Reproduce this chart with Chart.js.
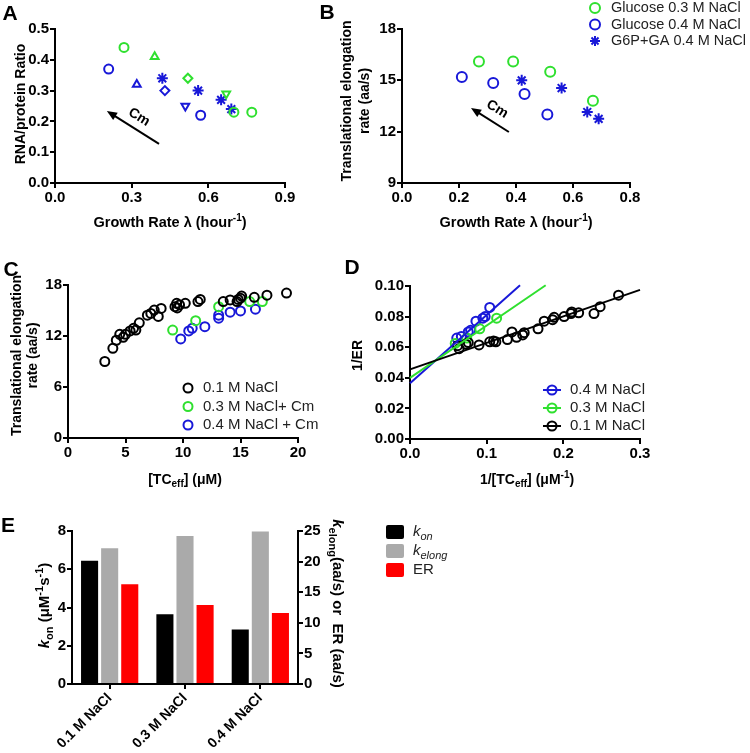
<!DOCTYPE html>
<html>
<head>
<meta charset="utf-8">
<script src="https://cdn.jsdelivr.net/npm/chart.js@4.4.0/dist/chart.umd.min.js"></script>
<style>
  body { margin: 0; background: #fff; }
  #wrap { position: relative; width: 750px; height: 753px; overflow: hidden; }
  canvas { position: absolute; }
</style>
</head>
<body>
<div id="wrap">
  <canvas id="cA" width="300" height="240" style="left:0;top:0"></canvas>
  <canvas id="cB" width="500" height="240" style="left:250px;top:0"></canvas>
  <canvas id="cC" width="370" height="260" style="left:0;top:240px"></canvas>
  <canvas id="cD" width="410" height="260" style="left:340px;top:240px"></canvas>
  <canvas id="cE" width="520" height="263" style="left:0;top:490px"></canvas>
</div>
<script>
var green = "#2fe02f", blue = "#1818d8";

// A: RNA/protein ratio vs growth rate
var aGreenX = [0.27, 0.39, 0.52, 0.67, 0.70, 0.77];
var aGreenY = [0.44, 0.41, 0.34, 0.29, 0.23, 0.23];
var aBlueX = [0.21, 0.32, 0.43, 0.51, 0.57];
var aBlueY = [0.37, 0.32, 0.30, 0.25, 0.22];
var aStarX = [0.42, 0.56, 0.65, 0.69];
var aStarY = [0.34, 0.30, 0.27, 0.24];
var aTicksX = [0, 0.3, 0.6, 0.9];
var aTicksY = [0, 0.1, 0.2, 0.3, 0.4, 0.5];
var aArrow = [0.407, 0.127, 0.203, 0.234]; // from x,y -> to x,y (data units)
var aCm = [0.329, 0.214];

// B: elongation rate vs growth rate
var bGreenX = [0.27, 0.39, 0.52, 0.67];
var bGreenY = [16.1, 16.1, 15.5, 13.8];
var bBlueX = [0.21, 0.32, 0.43, 0.51];
var bBlueY = [15.2, 14.85, 14.2, 13.0];
var bStarX = [0.42, 0.56, 0.65, 0.69];
var bStarY = [15.0, 14.55, 13.15, 12.75];
var bTicksX = [0, 0.2, 0.4, 0.6, 0.8];
var bTicksY = [9, 12, 15, 18];
var bArrow = [0.375, 11.98, 0.242, 13.38];
var bCm = [0.334, 13.32];

// C: elongation rate vs [TCeff]
var cBlackX = [3.2, 3.9, 4.2, 4.5, 4.8, 5.0, 5.4, 5.7, 5.9, 6.2, 6.9, 7.2, 7.5, 7.85, 8.1, 9.3, 9.45, 9.5, 9.7, 10.2, 11.3, 11.5, 13.5, 14.1, 14.7, 14.8, 15.0, 15.1, 16.2, 17.3, 19.0];
var cBlackY = [9.0, 10.55, 11.5, 12.2, 11.85, 12.2, 12.6, 12.9, 12.7, 13.55, 14.45, 14.65, 15.05, 14.3, 15.25, 15.45, 15.85, 15.3, 15.65, 15.85, 16.05, 16.3, 16.05, 16.25, 16.05, 16.3, 16.45, 16.7, 16.55, 16.8, 17.05];
var cGreenX = [9.1, 11.1, 13.1, 15.8, 16.9];
var cGreenY = [12.7, 13.8, 15.45, 16.05, 16.05];
var cBlueX = [9.8, 10.5, 10.8, 11.9, 13.1, 13.1, 14.1, 15.0, 16.3];
var cBlueY = [11.65, 12.6, 12.9, 13.1, 14.1, 14.45, 14.8, 14.95, 15.15];
var cTicksX = [0, 5, 10, 15, 20];
var cTicksY = [0, 6, 12, 18];

// D: 1/ER vs 1/[TCeff]
var dBlackX = [0.062, 0.064, 0.073, 0.076, 0.090, 0.104, 0.109, 0.112, 0.127, 0.133, 0.139, 0.147, 0.149, 0.167, 0.175, 0.186, 0.188, 0.201, 0.210, 0.211, 0.220, 0.240, 0.248, 0.272];
var dBlackY = [0.061, 0.059, 0.062, 0.063, 0.0615, 0.0635, 0.064, 0.0635, 0.065, 0.070, 0.0665, 0.068, 0.0695, 0.072, 0.077, 0.078, 0.0795, 0.080, 0.082, 0.083, 0.0825, 0.082, 0.0865, 0.094];
var dGreenX = [0.059, 0.074, 0.091, 0.113];
var dGreenY = [0.0625, 0.066, 0.072, 0.079];
var dBlueX = [0.061, 0.067, 0.076, 0.079, 0.086, 0.095, 0.098, 0.104];
var dBlueY = [0.066, 0.067, 0.070, 0.071, 0.077, 0.079, 0.080, 0.086];
var dFitBlackX = [0, 0.30], dFitBlackY = [0.0455, 0.0975];
var dFitGreenX = [0, 0.177], dFitGreenY = [0.040, 0.1005];
var dFitBlueX = [0, 0.1435], dFitBlueY = [0.0365, 0.1005];
var dTicksX = [0, 0.1, 0.2, 0.3];
var dTicksY = [0, 0.02, 0.04, 0.06, 0.08, 0.10];

// E: kon, kelong and ER per NaCl
var eCats = ["0.1 M NaCl", "0.3 M NaCl", "0.4 M NaCl"];
var eKon = [6.45, 3.65, 2.85];
var eKelong = [22.2, 24.2, 24.9];
var eER = [16.3, 12.9, 11.6];
var eTicksL = [0, 2, 4, 6, 8];
var eTicksR = [0, 5, 10, 15, 20, 25];

var FONT = '"Liberation Sans", Arial, sans-serif';
Chart.defaults.font.family = FONT;
Chart.defaults.color = "#000";
Chart.defaults.animation = false;

function pts(xs, ys) {
  return xs.map(function (x, i) { return { x: x, y: ys[i] }; });
}

function linAxis(pos, min, max, ticks, digits, size) {
  return {
    type: "linear", position: pos, min: min, max: max,
    border: { display: true, color: "#000", width: 2 },
    grid: { drawOnChartArea: false, color: "#000", lineWidth: 2, tickLength: 5 },
    ticks: {
      color: "#000", padding: 1, font: { size: 15, weight: "bold" },
      callback: function (v) { return Number(v).toFixed(digits); }
    },
    afterBuildTicks: function (s) { s.ticks = ticks.map(function (v) { return { value: v }; }); },
    afterFit: function (s) { if (s.isHorizontal()) s.height = size; else s.width = size; }
  };
}

// texte avec exposant / indice, dessine sur le canvas
function drawRich(ctx, x, y, parts, o) {
  o = o || {};
  var size = o.size || 14, weight = o.weight || "bold";
  parts = parts.map(function (p) { return typeof p === "string" ? { t: p } : p; });
  function font(p) {
    var s = (p.sup || p.sub) ? Math.round(size * 0.7) : size;
    return (p.it ? "italic " : "") + weight + " " + s + "px " + FONT;
  }
  var w = 0;
  parts.forEach(function (p) { ctx.font = font(p); w += ctx.measureText(p.t).width; });
  ctx.save();
  ctx.translate(x, y);
  ctx.rotate((o.rot || 0) * Math.PI / 180);
  ctx.fillStyle = o.color || "#000";
  ctx.textBaseline = "middle";
  var cx = o.align === "left" ? 0 : -w / 2;
  parts.forEach(function (p) {
    ctx.font = font(p);
    var dy = p.sup ? -size * 0.33 : (p.sub ? size * 0.3 : 0);
    ctx.fillText(p.t, cx, dy);
    cx += ctx.measureText(p.t).width;
  });
  ctx.restore();
}

function arrow(ctx, x1, y1, x2, y2) {
  var a = Math.atan2(y2 - y1, x2 - x1), h = 11;
  ctx.save();
  ctx.strokeStyle = "#000"; ctx.fillStyle = "#000"; ctx.lineWidth = 2;
  ctx.beginPath();
  ctx.moveTo(x1, y1);
  ctx.lineTo(x2 - h * 0.7 * Math.cos(a), y2 - h * 0.7 * Math.sin(a));
  ctx.stroke();
  ctx.beginPath();
  ctx.moveTo(x2, y2);
  ctx.lineTo(x2 - h * Math.cos(a - 0.4), y2 - h * Math.sin(a - 0.4));
  ctx.lineTo(x2 - h * Math.cos(a + 0.4), y2 - h * Math.sin(a + 0.4));
  ctx.closePath();
  ctx.fill();
  ctx.restore();
}

function marker(ctx, style, x, y, r, color) {
  ctx.save();
  ctx.strokeStyle = color; ctx.lineWidth = 2;
  ctx.beginPath();
  if (style === "star") {
    for (var k = 0; k < 4; k++) {
      var an = k * Math.PI / 4;
      ctx.moveTo(x - r * Math.cos(an), y - r * Math.sin(an));
      ctx.lineTo(x + r * Math.cos(an), y + r * Math.sin(an));
    }
  } else {
    ctx.arc(x, y, r, 0, Math.PI * 2);
  }
  ctx.stroke();
  ctx.restore();
}

function deco(fn) {
  return { id: "deco", afterDraw: function (chart) { fn(chart, chart.ctx, chart.chartArea); } };
}

function px(c, v) { return [c.scales.x.getPixelForValue(v[0]), c.scales.y.getPixelForValue(v[1])]; }

function scatterSet(label, data, color, style, r, extra) {
  var d = {
    label: label, data: data, borderColor: color, backgroundColor: "rgba(0,0,0,0)",
    pointStyle: style, pointRadius: r, pointBorderWidth: 2, clip: false
  };
  for (var k in extra) d[k] = extra[k];
  return d;
}

var baseOpts = function (pad) {
  return {
    responsive: false, events: [],
    layout: { padding: pad },
    plugins: { legend: { display: false }, tooltip: { enabled: false } }
  };
};

// ---- A ----
var optA = baseOpts({ top: 29, right: 15, left: 0, bottom: 0 });
optA.scales = { x: linAxis("bottom", 0, 0.9, aTicksX, 1, 57), y: linAxis("left", 0, 0.5, aTicksY, 1, 55) };
new Chart(document.getElementById("cA"), {
  type: "scatter",
  data: {
    datasets: [
      scatterSet("Glucose 0.3 M NaCl", pts(aGreenX, aGreenY), green,
        ["circle", "triangle", "rectRot", "triangle", "circle", "circle"], 4.5,
        { pointRotation: [0, 0, 0, 180, 0, 0] }),
      scatterSet("Glucose 0.4 M NaCl", pts(aBlueX, aBlueY), blue,
        ["circle", "triangle", "rectRot", "triangle", "circle"], 4.5,
        { pointRotation: [0, 0, 0, 180, 0] }),
      scatterSet("G6P+GA 0.4 M NaCl", pts(aStarX, aStarY), blue, "star", 5.5)
    ]
  },
  options: optA,
  plugins: [deco(function (c, ctx, a) {
    drawRich(ctx, 10, 14, ["A"], { size: 21 });
    drawRich(ctx, a.left - 34, (a.top + a.bottom) / 2 - 2, ["RNA/protein Ratio"], { rot: -90 });
    drawRich(ctx, (a.left + a.right) / 2, a.bottom + 40, ["Growth Rate λ (hour", { t: "-1", sup: true }, ")"], { size: 14.5 });
    var p1 = px(c, [aArrow[0], aArrow[1]]), p2 = px(c, [aArrow[2], aArrow[3]]);
    arrow(ctx, p1[0], p1[1], p2[0], p2[1]);
    var t = px(c, aCm);
    drawRich(ctx, t[0], t[1], ["Cm"], { rot: 32 });
  })]
});

// ---- B ----
var optB = baseOpts({ top: 29, right: 120, left: 0, bottom: 0 });
optB.scales = { x: linAxis("bottom", 0, 0.8, bTicksX, 1, 57), y: linAxis("left", 9, 18, bTicksY, 0, 152) };
new Chart(document.getElementById("cB"), {
  type: "scatter",
  data: {
    datasets: [
      scatterSet("Glucose 0.3 M NaCl", pts(bGreenX, bGreenY), green, "circle", 5),
      scatterSet("Glucose 0.4 M NaCl", pts(bBlueX, bBlueY), blue, "circle", 5),
      scatterSet("G6P+GA 0.4 M NaCl", pts(bStarX, bStarY), blue, "star", 5.5)
    ]
  },
  options: optB,
  plugins: [deco(function (c, ctx, a) {
    drawRich(ctx, 77, 13, ["B"], { size: 21 });
    var cy = (a.top + a.bottom) / 2 - 5;
    drawRich(ctx, a.left - 55, cy, ["Translational elongation"], { rot: -90 });
    drawRich(ctx, a.left - 37, cy, ["rate (aa/s)"], { rot: -90 });
    drawRich(ctx, (a.left + a.right) / 2, a.bottom + 40, ["Growth Rate λ (hour", { t: "-1", sup: true }, ")"], { size: 14.5 });
    var p1 = px(c, [bArrow[0], bArrow[1]]), p2 = px(c, [bArrow[2], bArrow[3]]);
    arrow(ctx, p1[0], p1[1], p2[0], p2[1]);
    var t = px(c, bCm);
    drawRich(ctx, t[0], t[1], ["Cm"], { rot: 32 });
    var styles = ["circle", "circle", "star"];
    c.data.datasets.forEach(function (ds, i) {
      var y = 8 + i * 16.5;
      marker(ctx, styles[i], 345, y, 5, ds.borderColor);
      drawRich(ctx, 361, y, [ds.label], { weight: "normal", size: 14.5, align: "left", color: "#222" });
    });
  })]
});

// ---- C ----
var optC = baseOpts({ top: 45, right: 72, left: 0, bottom: 0 });
optC.scales = { x: linAxis("bottom", 0, 20, cTicksX, 0, 62), y: linAxis("left", 0, 18, cTicksY, 0, 68) };
new Chart(document.getElementById("cC"), {
  type: "scatter",
  data: {
    datasets: [
      scatterSet("0.1 M NaCl", pts(cBlackX, cBlackY), "#000", "circle", 4.5),
      scatterSet("0.3 M NaCl+ Cm", pts(cGreenX, cGreenY), green, "circle", 4.5),
      scatterSet("0.4 M NaCl + Cm", pts(cBlueX, cBlueY), blue, "circle", 4.5)
    ]
  },
  options: optC,
  plugins: [deco(function (c, ctx, a) {
    drawRich(ctx, 11, 30, ["C"], { size: 21 });
    var cy = (a.top + a.bottom) / 2 - 6;
    drawRich(ctx, a.left - 51, cy, ["Translational elongation"], { rot: -90 });
    drawRich(ctx, a.left - 35, cy, ["rate (aa/s)"], { rot: -90 });
    drawRich(ctx, (a.left + a.right) / 2 + 2, a.bottom + 42, ["[TC", { t: "eff", sub: true }, "] (μM)"]);
    c.data.datasets.forEach(function (ds, i) {
      var y = 148 + i * 18.5;
      marker(ctx, "circle", 188, y, 4.5, ds.borderColor);
      drawRich(ctx, 203, y, [ds.label], { weight: "normal", size: 15, align: "left", color: "#222" });
    });
  })]
});

// ---- D ----
function fitSet(xs, ys, color) {
  return { type: "line", data: pts(xs, ys), borderColor: color, borderWidth: 2, pointRadius: 0, showLine: true, fill: false, clip: false };
}
var optD = baseOpts({ top: 46, right: 110, left: 0, bottom: 0 });
optD.scales = { x: linAxis("bottom", 0, 0.3, dTicksX, 1, 61), y: linAxis("left", 0, 0.10, dTicksY, 2, 70) };
new Chart(document.getElementById("cD"), {
  type: "scatter",
  data: {
    datasets: [
      fitSet(dFitBlackX, dFitBlackY, "#000"),
      fitSet(dFitGreenX, dFitGreenY, green),
      fitSet(dFitBlueX, dFitBlueY, blue),
      scatterSet("0.1 M NaCl", pts(dBlackX, dBlackY), "#000", "circle", 4.5),
      scatterSet("0.3 M NaCl", pts(dGreenX, dGreenY), green, "circle", 4.5),
      scatterSet("0.4 M NaCl", pts(dBlueX, dBlueY), blue, "circle", 4.5)
    ]
  },
  options: optD,
  plugins: [deco(function (c, ctx, a) {
    drawRich(ctx, 12, 28, ["D"], { size: 21 });
    drawRich(ctx, a.left - 52, (a.top + a.bottom) / 2 - 7, ["1/ER"], { rot: -90 });
    drawRich(ctx, (a.left + a.right) / 2 + 2, a.bottom + 41, ["1/[TC", { t: "eff", sub: true }, "] (μM", { t: "-1", sup: true }, ")"]);
    [5, 4, 3].forEach(function (di, i) {
      var ds = c.data.datasets[di], y = 150 + i * 18;
      ctx.save();
      ctx.strokeStyle = ds.borderColor; ctx.lineWidth = 2;
      ctx.beginPath(); ctx.moveTo(203, y); ctx.lineTo(221, y); ctx.stroke();
      ctx.restore();
      marker(ctx, "circle", 212, y, 4.5, ds.borderColor);
      drawRich(ctx, 230, y, [ds.label], { weight: "normal", size: 15, align: "left", color: "#222" });
    });
  })]
});

// ---- E ----
var optE = baseOpts({ top: 41, right: 140, left: 0, bottom: 0 });
optE.scales = {
  x: {
    type: "category", offset: true,
    border: { display: true, color: "#000", width: 2 },
    grid: { drawOnChartArea: false, offset: false, color: "#000", lineWidth: 2, tickLength: 5 },
    ticks: { color: "#000", autoSkip: false, minRotation: 45, maxRotation: 45, padding: 1, font: { size: 14, weight: "bold" } },
    afterFit: function (s) { s.height = 69; }
  },
  y: linAxis("left", 0, 8, eTicksL, 0, 72),
  y2: linAxis("right", 0, 25, eTicksR, 0, 82)
};
new Chart(document.getElementById("cE"), {
  type: "bar",
  data: {
    labels: eCats,
    datasets: [
      { label: "kon", data: eKon, backgroundColor: "#000", yAxisID: "y", categoryPercentage: 0.8, barPercentage: 0.85 },
      { label: "kelong", data: eKelong, backgroundColor: "#aaaaaa", yAxisID: "y2", categoryPercentage: 0.8, barPercentage: 0.85 },
      { label: "ER", data: eER, backgroundColor: "#ff0000", yAxisID: "y2", categoryPercentage: 0.8, barPercentage: 0.85 }
    ]
  },
  options: optE,
  plugins: [deco(function (c, ctx, a) {
    drawRich(ctx, 8, 36, ["E"], { size: 21 });
    var cy = (a.top + a.bottom) / 2;
    drawRich(ctx, a.left - 27, cy - 2, [{ t: "k", it: true }, { t: "on", sub: true }, " (μM", { t: "-1", sup: true }, "s", { t: "-1", sup: true }, ")"], { rot: -90, size: 15 });
    drawRich(ctx, a.right + 39, cy - 4, [{ t: "k", it: true }, { t: "elong", sub: true }, "(aa/s) or  ER (aa/s)"], { rot: 90, size: 15 });
    var legendTxt = [
      [{ t: "k", it: true }, { t: "on", sub: true, it: true }],
      [{ t: "k", it: true }, { t: "elong", sub: true, it: true }],
      ["ER"]
    ];
    c.data.datasets.forEach(function (ds, i) {
      var y = 42 + i * 19;
      ctx.save();
      ctx.fillStyle = ds.backgroundColor;
      ctx.beginPath();
      ctx.roundRect(386, y - 7, 18, 14, 2);
      ctx.fill();
      ctx.restore();
      drawRich(ctx, 413, y, legendTxt[i], { weight: "normal", size: 15, align: "left", color: "#222" });
    });
  })]
});
</script>
</body>
</html>
